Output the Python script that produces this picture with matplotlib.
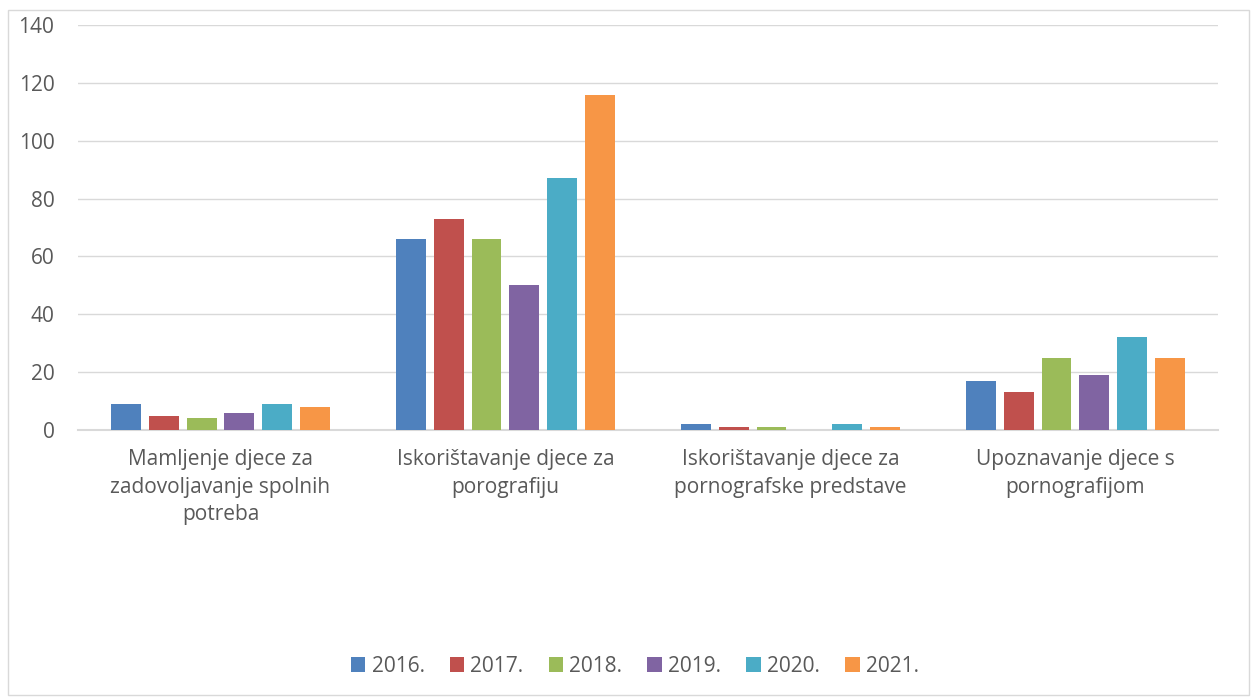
import numpy as np
import matplotlib.pyplot as plt
from matplotlib.patches import Rectangle

# categories and yearly counts
categories = ["Mamljenje djece za\nzadovoljavanje spolnih\npotreba",
              "Iskorištavanje djece za\nporografiju",
              "Iskorištavanje djece za\npornografske predstave",
              "Upoznavanje djece s\npornografijom"]
years = ["2016.", "2017.", "2018.", "2019.", "2020.", "2021."]
v2016 = [9, 66, 2, 17]
v2017 = [5, 73, 1, 13]
v2018 = [4, 66, 1, 25]
v2019 = [6, 50, 0, 19]
v2020 = [9, 87, 2, 32]
v2021 = [8, 116, 1, 25]
series = [v2016, v2017, v2018, v2019, v2020, v2021]
colors = ["#4f81bd", "#c0504d", "#9bbb59", "#8064a2", "#4bacc6", "#f79646"]

plt.rcParams['font.family'] = ['Open Sans', 'DejaVu Sans']
txt = "#595959"
fs = 15

fig = plt.figure(figsize=(12.52, 6.97), dpi=100)
ax = fig.add_axes([0.0623, 0.383, 0.9105, 0.581])

# chart border
fig.patches.append(Rectangle((8/1252, 2/697), 1241/1252, 685/697, transform=fig.transFigure,
                             fill=False, edgecolor="#d9d9d9", linewidth=1))

x = np.arange(len(categories))
step = 0.133
width = 0.105
for i, (vals, c, y) in enumerate(zip(series, colors, years)):
    ax.bar(x + (i - 2.5) * step, vals, width, color=c, label=y, zorder=3)

ax.set_xlim(-0.5, 3.5)
ax.set_ylim(0, 140)
ax.set_yticks(range(0, 141, 20))
ax.grid(axis='y', color="#d9d9d9", linewidth=1, zorder=0)
ax.set_xticks(x)
ax.set_xticklabels(categories, fontsize=fs, color=txt, linespacing=1.4)
ax.tick_params(axis='y', labelsize=fs, labelcolor=txt, length=0, pad=17)
ax.tick_params(axis='x', length=0, pad=14)
for s in ['top', 'right', 'left']:
    ax.spines[s].set_visible(False)
ax.spines['bottom'].set_color("#d9d9d9")
ax.spines['bottom'].set_linewidth(1.5)

fig.legend(loc='center', bbox_to_anchor=(0.507, 0.044), ncol=6, frameon=False,
           fontsize=fs, labelcolor=txt, handlelength=0.7, handleheight=0.7,
           handletextpad=0.3, columnspacing=1.2)

fig.savefig("out.png", dpi=100)
